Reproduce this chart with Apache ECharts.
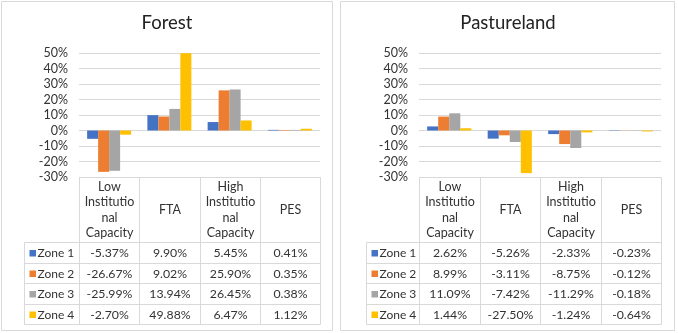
<!DOCTYPE html>
<html><head><meta charset="utf-8">
<script src="https://cdn.jsdelivr.net/npm/echarts@6/dist/echarts.min.js"></script>
<style>html,body{margin:0;padding:0;background:#fff}#c{width:678px;height:333px}</style>
</head><body><div id="c"></div>
<script>
// ---- data ----
const categories = ['Low Institutional Capacity', 'FTA', 'High Institutional Capacity', 'PES'];
const headerLabels = ['Low\nInstitutio\nnal\nCapacity', 'FTA', 'High\nInstitutio\nnal\nCapacity', 'PES'];
const zones = ['Zone 1', 'Zone 2', 'Zone 3', 'Zone 4'];
const titles = ['Forest', 'Pastureland'];
const forestZone1 = [-5.37, 9.90, 5.45, 0.41];
const forestZone2 = [-26.67, 9.02, 25.90, 0.35];
const forestZone3 = [-25.99, 13.94, 26.45, 0.38];
const forestZone4 = [-2.70, 49.88, 6.47, 1.12];
const pastureZone1 = [2.62, -5.26, -2.33, -0.23];
const pastureZone2 = [8.99, -3.11, -8.75, -0.12];
const pastureZone3 = [11.09, -7.42, -11.29, -0.18];
const pastureZone4 = [1.44, -27.50, -1.24, -0.64];
const yMin = -30, yMax = 50, yStep = 10;

// ---- styles / layout ----
const colors = ['#4472C4', '#ED7D31', '#A5A5A5', '#FFC000'];
const FONT = 'Lato, Carlito, Calibri, sans-serif';
const TXT = '#333333';
const LINE = '#d9d9d9';
const panelData = [
  [forestZone1, forestZone2, forestZone3, forestZone4],
  [pastureZone1, pastureZone2, pastureZone3, pastureZone4]
];
const panels = [
  { chartLeft: 79, chartWidth: 241, tableLeft: 24, legendW: 55, cx: 167, box: [1.5, 1.5, 331, 329] },
  { chartLeft: 419, chartWidth: 242, tableLeft: 366, legendW: 53, cx: 508, box: [340.5, 1.5, 334, 329] }
];
const chartTop = 53, chartHeight = 124, tableTop = 177, headerH = 65, rowH = 20.5;
const headerUnits = headerH / rowH;

const grid = [], xAxis = [], yAxis = [], series = [], title = [], graphic = [];
panels.forEach((p, pi) => {
  const colW = p.chartWidth / categories.length;
  const legendUnits = p.legendW / colW;
  grid.push({ left: p.chartLeft, top: chartTop, width: p.chartWidth, height: chartHeight });
  grid.push({ left: p.tableLeft, top: tableTop, width: p.chartLeft + p.chartWidth - p.tableLeft, height: headerH + rowH * zones.length });
  xAxis.push({ gridIndex: 2 * pi, type: 'category', data: categories,
    axisLine: { show: false }, axisTick: { show: false }, axisLabel: { show: false }, splitLine: { show: false } });
  xAxis.push({ gridIndex: 2 * pi + 1, type: 'value', min: -legendUnits, max: categories.length, show: false });
  yAxis.push({ gridIndex: 2 * pi, type: 'value', min: yMin, max: yMax, interval: yStep,
    axisLine: { show: false }, axisTick: { show: false },
    axisLabel: { formatter: '{value}%', margin: 11, fontSize: 12.5, color: TXT, fontFamily: FONT },
    splitLine: { lineStyle: { color: LINE, width: 1 } } });
  yAxis.push({ gridIndex: 2 * pi + 1, type: 'value', min: -headerUnits, max: zones.length, inverse: true, show: false });

  zones.forEach((z, zi) => {
    series.push({ type: 'bar', name: z, xAxisIndex: 2 * pi, yAxisIndex: 2 * pi,
      data: panelData[pi][zi], barGap: '0%', barCategoryGap: '27%',
      itemStyle: { color: colors[zi] }, silent: true });
  });

  // table cells: [x0, x1, y0, y1, kind, row, col]
  const cells = [];
  categories.forEach((c, ci) => cells.push([ci, ci + 1, -headerUnits, 0, 0, -1, ci]));
  zones.forEach((z, zi) => {
    cells.push([-legendUnits, 0, zi, zi + 1, 2, zi, -1]);
    categories.forEach((c, ci) => cells.push([ci, ci + 1, zi, zi + 1, 1, zi, ci]));
  });
  series.push({
    type: 'custom', xAxisIndex: 2 * pi + 1, yAxisIndex: 2 * pi + 1, silent: true, clip: false,
    data: cells,
    renderItem: function (params, api) {
      const a = api.coord([api.value(0), api.value(2)]);
      const b = api.coord([api.value(1), api.value(3)]);
      const kind = api.value(4), r = api.value(5), c = api.value(6);
      const x0 = Math.round(a[0]) + 0.5, y0 = Math.round(a[1]) + 0.5;
      const x1 = Math.round(b[0]) + 0.5, y1 = Math.round(b[1]) + 0.5;
      const children = [{ type: 'rect', shape: { x: x0, y: y0, width: x1 - x0, height: y1 - y0 },
        style: { fill: null, stroke: LINE, lineWidth: 1 } }];
      const cy = (y0 + y1) / 2;
      if (kind === 0) {
        children.push({ type: 'text', style: { x: (x0 + x1) / 2, y: cy, text: headerLabels[c], align: 'center', verticalAlign: 'middle',
          fontSize: 12.5, lineHeight: 15.5, fill: TXT, fontFamily: FONT } });
      } else if (kind === 1) {
        const v = panelData[pi][r][c];
        children.push({ type: 'text', style: { x: (x0 + x1) / 2, y: cy + 0.5, text: v.toFixed(2) + '%', align: 'center', verticalAlign: 'middle',
          fontSize: 12.3, fill: TXT, fontFamily: FONT } });
      } else {
        children.push({ type: 'rect', shape: { x: x0 + 5, y: cy - 3, width: 6.5, height: 6.5 }, style: { fill: colors[r] } });
        children.push({ type: 'text', style: { x: x0 + 13, y: cy + 0.5, text: zones[r], align: 'left', verticalAlign: 'middle',
          fontSize: 12, fill: TXT, fontFamily: FONT } });
      }
      return { type: 'group', children: children };
    }
  });

  title.push({ text: titles[pi], left: p.cx, top: 14, textAlign: 'center', padding: 0,
    textStyle: { fontSize: 18.5, fontWeight: 'normal', color: '#222222', fontFamily: FONT } });
  graphic.push({ type: 'rect', shape: { x: p.box[0], y: p.box[1], width: p.box[2], height: p.box[3] },
    style: { fill: null, stroke: LINE, lineWidth: 1 }, silent: true });
});

const chart = echarts.init(document.getElementById('c'), null, { renderer: 'canvas' });
chart.setOption({
  animation: false,
  backgroundColor: '#fff',
  title: title,
  grid: grid,
  xAxis: xAxis,
  yAxis: yAxis,
  series: series,
  graphic: graphic
});
</script>
</body></html>
